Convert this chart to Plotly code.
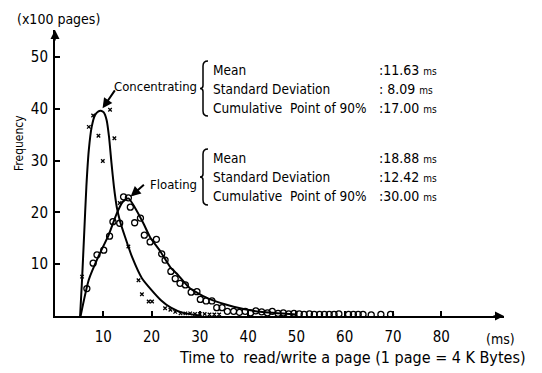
import plotly.graph_objects as go

# ---------------- data ----------------
# fitted curves
conc_curve_x = [5.2, 5.6, 6.0, 6.5, 7.0, 7.6, 8.3, 9.0, 9.5, 10.1, 10.7, 11.2, 11.7, 12.2, 12.8,
                13.5, 14.5, 16.0, 18.0, 20.0, 22.0, 24.0, 26.5, 30.0]
conc_curve_y = [0.0, 7.0, 15.0, 25.0, 32.0, 36.5, 38.8, 39.5, 39.6, 39.3, 37.8, 34.5, 29.5, 25.0, 21.0,
                18.2, 15.3, 11.3, 7.3, 5.0, 3.0, 1.6, 0.6, 0.1]

float_curve_x = [5.3, 7.0, 9.0, 11.1, 12.8, 14.0, 15.2, 16.5, 18.3, 19.7, 21.8, 23.9, 25.2, 28.0,
                 32.2, 37.0, 42.5, 50.0]
float_curve_y = [0.0, 7.0, 11.5, 15.6, 19.8, 22.0, 22.7, 21.0, 17.9, 15.2, 12.5, 9.4, 8.2, 5.3,
                 3.2, 1.8, 0.8, 0.3]

# measured points
conc_pts_x = [5.6, 7.0, 7.9, 9.0, 9.9, 11.4, 12.3, 13.4, 15.2, 17.3, 18.0, 19.4, 20.1, 22.8, 23.9, 24.9,
              26.0, 27.0, 28.0, 29.0, 30.0, 31.0, 32.0, 33.0, 34.0]
conc_pts_y = [7.6, 36.5, 38.7, 34.8, 29.9, 39.8, 34.3, 21.8, 13.4, 6.9, 4.2, 2.8, 2.8, 1.5, 1.2, 0.8,
              0.5, 0.5, 0.5, 0.4, 0.4, 0.4, 0.3, 0.3, 0.3]

float_pts_x = [6.6, 7.9, 8.7, 10.1, 11.3, 12.0, 13.4, 14.2, 15.2, 15.6, 16.5, 17.7, 18.5, 19.7, 21.0,
               22.1, 22.8, 24.0, 24.9, 25.9, 27.0, 28.2, 29.4, 30.1, 31.3, 32.5, 33.5, 34.6, 35.7,
               37.0, 38.2, 39.4, 40.5, 41.6, 42.8, 44.0, 45.0, 46.2, 47.3, 48.4, 49.5, 50.6, 51.6,
               52.7, 53.7, 54.8, 55.8, 56.8, 57.8, 58.8, 60.8, 61.8, 62.8, 63.8, 65.5, 67.5, 69.5]
float_pts_y = [5.3, 10.2, 11.8, 12.7, 15.4, 18.2, 17.9, 23.0, 22.8, 21.0, 18.0, 18.9, 15.6, 14.3, 14.8,
               12.0, 10.8, 8.6, 7.2, 6.3, 6.0, 4.6, 4.7, 3.2, 2.9, 2.9, 1.6, 1.6, 0.9,
               0.9, 0.7, 0.9, 0.6, 1.0, 0.8, 0.6, 0.9, 0.5, 0.6, 0.4, 0.5, 0.4, 0.3,
               0.4, 0.3, 0.3, 0.3, 0.3, 0.3, 0.4, 0.3, 0.3, 0.3, 0.3, 0.2, 0.3, 0.3]

x_ticks = [10, 20, 30, 40, 50, 60, 70, 80]
y_ticks = [10, 20, 30, 40, 50]

stat_labels = ["Mean", "Standard Deviation", "Cumulative  Point of 90%"]
conc_stats = [":11.63", ": 8.09", ":17.00"]
float_stats = [":18.88", ":12.42", ":30.00"]

# ---------------- layout geometry ----------------
W, H = 542, 373
L, T = 55, 30
PW, PH = 449, 286
XMAX, YMAX = 93, 55.2
FONT = "DejaVu Sans Condensed, Liberation Sans Narrow, Arial Narrow, DejaVu Sans, sans-serif"


def xp(p):
    return (p - L) / PW


def yp(p):
    return (T + PH - p) / PH


fig = go.Figure()

fig.add_trace(go.Scatter(x=conc_curve_x, y=conc_curve_y, mode="lines",
                         line=dict(color="black", width=2, shape="spline", smoothing=0.5),
                         hoverinfo="skip", showlegend=False))
fig.add_trace(go.Scatter(x=float_curve_x, y=float_curve_y, mode="lines",
                         line=dict(color="black", width=2, shape="spline", smoothing=0.6),
                         hoverinfo="skip", showlegend=False))
fig.add_trace(go.Scatter(x=conc_pts_x, y=conc_pts_y, mode="markers",
                         marker=dict(symbol="x-thin", size=3.5, line=dict(color="black", width=1.3)),
                         showlegend=False))
fig.add_trace(go.Scatter(x=float_pts_x, y=float_pts_y, mode="markers",
                         marker=dict(symbol="circle-open", size=6, color="black",
                                     line=dict(color="black", width=1.3)),
                         showlegend=False))

annotations = []
# axis arrows
annotations.append(dict(x=XMAX, y=0, xref="x", yref="y", ax=-12, ay=0, text="", showarrow=True,
                        arrowhead=2, arrowsize=1.2, arrowwidth=1.5, arrowcolor="black"))
annotations.append(dict(x=0, y=YMAX, xref="x", yref="y", ax=0, ay=12, text="", showarrow=True,
                        arrowhead=2, arrowsize=1.2, arrowwidth=1.5, arrowcolor="black"))

# peak arrows
ci = conc_curve_y.index(max(conc_curve_y))
fi = float_curve_y.index(max(float_curve_y))
annotations.append(dict(x=conc_curve_x[ci], y=conc_curve_y[ci], xref="x", yref="y", ax=15, ay=-22,
                        text="", showarrow=True, arrowhead=2, arrowsize=1, arrowwidth=2,
                        arrowcolor="black", standoff=3))
annotations.append(dict(x=float_curve_x[fi], y=float_curve_y[fi], xref="x", yref="y", ax=17, ay=-15,
                        text="", showarrow=True, arrowhead=2, arrowsize=1, arrowwidth=2,
                        arrowcolor="black", standoff=3))


def txt(s, px, py, size=13, xanchor="left", angle=0):
    annotations.append(dict(x=xp(px), y=yp(py), xref="paper", yref="paper", text=s,
                            showarrow=False, xanchor=xanchor, yanchor="middle", textangle=angle,
                            font=dict(family=FONT, size=size, color="black")))


txt("(x100 pages)", 15, 19, 14)
txt("Frequency", 19, 143, 12, "center", -90)
txt("(ms)", 484, 339, 14)
txt("Time to  read/write a page (1 page = 4 K Bytes)", 352, 357, 16, "center")

txt("Concentrating", 199, 86, 13, "right")
txt("Floating", 199, 184, 13, "right")

blocks = [(conc_stats, [70, 89, 108]), (float_stats, [158, 177, 196])]
for stats, ys in blocks:
    for lab, val, y in zip(stat_labels, stats, ys):
        txt(lab, 211, y, 13.5)
        txt(val + " <span style='font-size:10px'>ms</span>", 377, y, 14)

shapes = []


def bracket(y0, y1):
    xm = 203
    ym = (y0 + y1) / 2
    pts = [
        f"M {xp(xm+5)},{yp(y0)}",
        f"Q {xp(xm)},{yp(y0)} {xp(xm)},{yp(y0+5)}",
        f"L {xp(xm)},{yp(ym-3)}",
        f"Q {xp(xm)},{yp(ym)} {xp(xm-3)},{yp(ym)}",
        f"Q {xp(xm)},{yp(ym)} {xp(xm)},{yp(ym+3)}",
        f"L {xp(xm)},{yp(y1-5)}",
        f"Q {xp(xm)},{yp(y1)} {xp(xm+5)},{yp(y1)}",
    ]
    shapes.append(dict(type="path", xref="paper", yref="paper", path=" ".join(pts),
                       line=dict(color="black", width=1.5)))


bracket(61, 116)
bracket(149, 205)

fig.update_layout(
    width=W, height=H,
    margin=dict(l=L, r=W - L - PW, t=T, b=H - T - PH, pad=0),
    paper_bgcolor="white", plot_bgcolor="white",
    font=dict(family=FONT, size=15, color="black"),
    annotations=annotations, shapes=shapes, showlegend=False,
    xaxis=dict(range=[0, XMAX], tickvals=x_ticks, ticktext=[str(v) for v in x_ticks],
               ticks="inside", ticklen=5, tickwidth=1.5, tickcolor="black",
               showline=True, linecolor="black", linewidth=2, showgrid=False, zeroline=False,
               ticklabelstandoff=6, tickfont=dict(family=FONT, size=15)),
    yaxis=dict(range=[0, YMAX], tickvals=y_ticks, ticktext=[str(v) for v in y_ticks],
               ticks="inside", ticklen=5, tickwidth=1.5, tickcolor="black",
               showline=True, linecolor="black", linewidth=2, showgrid=False, zeroline=False,
               ticklabelstandoff=2, tickfont=dict(family=FONT, size=15)),
)

fig.write_html("out.html")
